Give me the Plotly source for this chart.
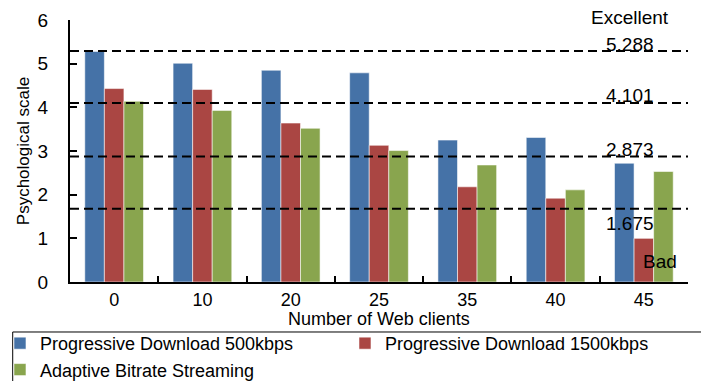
import plotly.graph_objects as go

# Number of concurrent web clients (category axis)
clients = ["0", "10", "20", "25", "35", "40", "45"]

# Mean opinion on the psychological scale per streaming method
pd_500 = [5.28, 5.01, 4.85, 4.79, 3.25, 3.31, 2.72]
pd_1500 = [4.43, 4.41, 3.64, 3.13, 2.18, 1.92, 1.00]
abs_stream = [4.14, 3.93, 3.52, 3.01, 2.68, 2.11, 2.53]

series_names = [
    "Progressive Download 500kbps",
    "Progressive Download 1500kbps",
    "Adaptive Bitrate Streaming",
]
series_colors = ["#4572A7", "#AA4643", "#89A54E"]

# Category thresholds on the psychological scale
thresholds = [5.288, 4.101, 2.873, 1.675]
threshold_labels = ["5.288", "4.101", "2.873", "1.675"]
threshold_label_shift = [7, 7, 7, -15]

FONT = "Liberation Sans, Arial, sans-serif"

fig = go.Figure()
for name, vals, col in zip(series_names, [pd_500, pd_1500, abs_stream], series_colors):
    fig.add_trace(go.Bar(
        x=clients, y=vals, name=name,
        marker=dict(color=col, line=dict(color="rgba(255,255,255,0.55)", width=1)),
    ))

for t, lbl, sh in zip(thresholds, threshold_labels, threshold_label_shift):
    fig.add_shape(type="line", xref="paper", x0=0, x1=1, yref="y", y0=t, y1=t,
                  line=dict(color="black", width=2, dash="9px,5px"), layer="above")
    fig.add_annotation(xref="paper", x=0.906, yref="y", y=t, yshift=sh, text=lbl,
                       showarrow=False, xanchor="center", yanchor="middle",
                       font=dict(family=FONT, size=19, color="black"))

fig.add_annotation(xref="paper", x=0.906, yref="y", y=6, yshift=3, text="Excellent",
                   showarrow=False, xanchor="center", yanchor="middle",
                   font=dict(family=FONT, size=19, color="black"))
fig.add_annotation(xref="paper", x=0.955, yref="y", y=0, yshift=21, text="Bad",
                   showarrow=False, xanchor="center", yanchor="middle",
                   font=dict(family=FONT, size=19, color="black"))

# x-axis title, placed just under the tick labels
fig.add_annotation(xref="paper", x=0.5, yref="paper", y=0, yshift=-37,
                   text="Number of Web clients", showarrow=False,
                   xanchor="center", yanchor="middle",
                   font=dict(family=FONT, size=18, color="black"))

# frame around the legend
fig.add_shape(type="rect", xref="paper", yref="paper",
              x0=-0.0927, x1=1.03, y0=-0.1908, y1=-0.45,
              line=dict(color="black", width=1), fillcolor="rgba(0,0,0,0)",
              layer="above")

fig.update_layout(
    width=701, height=381,
    margin=dict(l=70, r=13, t=20, b=99, autoexpand=False),
    paper_bgcolor="white", plot_bgcolor="white",
    font=dict(family=FONT, size=17, color="black"),
    barmode="group", bargap=0.335, bargroupgap=0,
    showlegend=True,
    legend=dict(
        orientation="h", xref="paper", yref="paper",
        x=-0.1133, y=-0.164, xanchor="left", yanchor="top",
        borderwidth=0, bgcolor="rgba(0,0,0,0)",
        font=dict(family=FONT, size=18, color="black"),
        entrywidth=300, entrywidthmode="pixels",
        tracegroupgap=0,
        traceorder="normal",
    ),
)

fig.update_xaxes(
    type="category", showline=True, linecolor="black", linewidth=2,
    ticks="inside", tickson="boundaries", ticklen=6, tickwidth=1.5, tickcolor="black",
    showgrid=False, zeroline=False, ticklabelstandoff=0,
    tickfont=dict(family=FONT, size=18, color="black"),
)
fig.update_yaxes(
    range=[0, 6], dtick=1, showline=True, linecolor="black", linewidth=2,
    ticks="inside", ticklen=7, tickwidth=1.5, tickcolor="black",
    showgrid=False, zeroline=False, ticklabelstandoff=16,
    tickfont=dict(family=FONT, size=19, color="black"),
    title=dict(text="Psychological scale", standoff=4,
               font=dict(family=FONT, size=17, color="black")),
)

fig.write_html("out.html")
